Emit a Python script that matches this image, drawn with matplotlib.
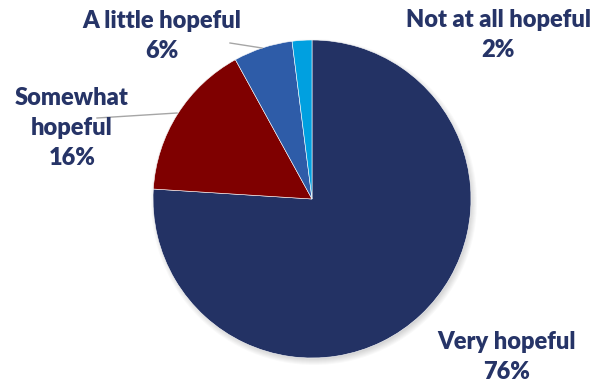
import numpy as np
import matplotlib.pyplot as plt
from matplotlib.patches import Circle

labels = ["Very hopeful", "Somewhat\nhopeful", "A little hopeful", "Not at all hopeful"]
values = [76, 16, 6, 2]
colors = ["#233264", "#7f0000", "#2e5ca8", "#00a0e0"]

# label text centres, in pixel-like coordinates (y from the top)
label_pos = [(507, 357), (72, 128), (162, 36), (498, 35)]
# leader lines (start at label, end at slice)
leaders = {1: [(97, 118), (177, 113)], 2: [(230, 43), (262, 48)]}

W, H = 599, 385
fig = plt.figure(figsize=(W / 100, H / 100), dpi=100)
ax = fig.add_axes([0, 0, 1, 1])

cx, cy, r = 312, H - 199, 159

# soft shadow under the pie
for k in range(8):
    ax.add_patch(Circle((cx + 2, cy - 3), r + 4 - k, color="black",
                        alpha=0.025, lw=0, zorder=0))

ax.pie(values, colors=colors, startangle=90, counterclock=False,
       center=(cx, cy), radius=r, frame=True,
       wedgeprops=dict(edgecolor="white", linewidth=0.4))
ax.set_xlim(0, W)
ax.set_ylim(0, H)
ax.set_aspect("equal")
ax.axis("off")

for i, (lab, val) in enumerate(zip(labels, values)):
    x, y = label_pos[i]
    ax.text(x, H - y, f"{lab}\n{val}%", ha="center", va="center",
            fontsize=17, fontweight="heavy", family="Lato",
            color="#263467", linespacing=1.45)
    if i in leaders:
        (x0, y0), (x1, y1) = leaders[i]
        ax.plot([x0, x1], [H - y0, H - y1], color="#a6a6a6", lw=1, zorder=1)

fig.savefig("out.png", dpi=100)
